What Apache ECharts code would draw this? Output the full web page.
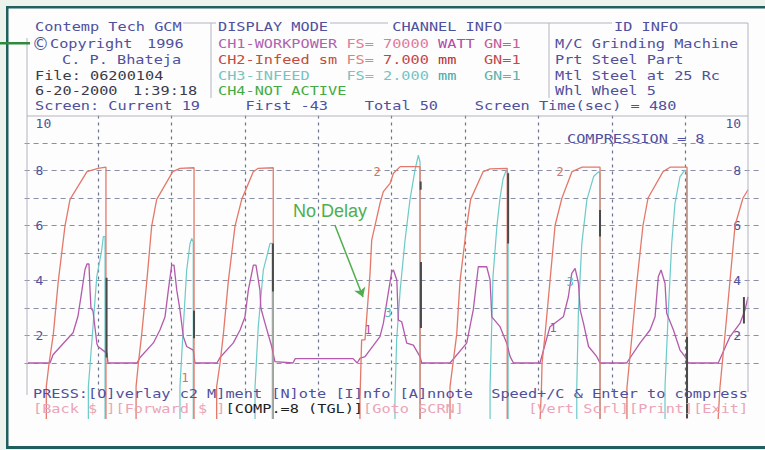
<!DOCTYPE html>
<html>
<head>
<meta charset="utf-8">
<script src="https://cdn.jsdelivr.net/npm/echarts@6/dist/echarts.min.js"></script>
<style>html,body{margin:0;padding:0;background:#fcfdfc}#c{width:765px;height:450px}</style>
</head>
<body>
<div id="c"></div>
<script>
// ---------- DATA (time in seconds, value in screen units 0..10) ----------
// CH1 - WORKPOWER (magenta)
const ch1Workpower = [
 [2.2,1.0],[16.6,1.0],[18.6,1.3],[25.1,1.7],[31.7,2.1],[34.9,2.7],[37.5,3.65],[39.5,4.4],[40.8,4.6],[42.1,4.6],[42.8,3.65],[43.4,3.0],[44.7,2.9],[47.3,1.7],[48.0,1.6],[53.9,1.35],[54.5,1.0],
 [73.5,1.0],[75.5,1.2],[84.2,1.73],[88.5,2.2],[91.8,2.67],[94.0,3.65],[96.2,4.56],[97.7,4.56],[99.5,3.65],[101.6,2.93],[103.8,1.96],[106.0,1.6],[110.3,1.47],[111.4,1.0],
 [125.8,1.0],[127.8,1.2],[136.5,1.73],[140.9,2.2],[144.1,2.67],[146.3,3.65],[149.6,4.56],[151.3,4.56],[153.9,3.65],[154.5,3.0],[157.2,2.45],[161.6,1.6],[163.7,1.05],
 [175.5,1.0],[177.0,1.16],[214.8,1.16],[217.5,1.0],
 [219.3,1.17],[222.6,1.23],[232.4,1.96],[234.6,2.44],[240.1,4.32],[241.2,4.38],[243.4,4.02],[244.4,2.56],[246.6,2.5],[249.9,1.72],[254.2,1.65],[258.6,1.23],[259.7,1.0],
 [278.2,1.0],[289.1,1.72],[293.4,2.93],[296.7,4.5],[302.2,4.5],[304.4,4.02],[305.5,2.68],[310.9,2.32],[315.3,1.72],[317.5,1.23],[319.7,1.0],
 [337.0,1.0],[343.6,2.32],[352.3,2.68],[355.6,3.41],[357.8,4.26],[360.0,4.44],[362.2,3.9],[363.3,2.93],[365.5,2.44],[368.8,1.6],[374.2,1.23],[376.3,1.0],
 [393.7,1.0],[402.4,1.72],[409.0,2.2],[412.3,2.68],[414.4,4.14],[416.2,4.38],[418.8,3.9],[419.9,2.81],[424.3,2.2],[428.6,1.47],[431.9,1.23],[434.0,1.0],
 [453.6,1.0],[461.3,1.96],[467.8,2.44],[471.1,2.93],[473.1,3.4]
];
// CH2 - Infeed sm (red)
const ch2InfeedSm = [
 [2.2,-1.2],
 [14.2,-1.2],[14.2,0.14],[16.0,0.99],[18.8,2.05],[22.0,3.96],[26.4,5.98],[29.7,6.95],[40.8,7.96],[48.0,8.08],[53.2,8.12],[53.2,-1.2],
 [72.9,-1.2],[72.9,0.14],[74.4,0.99],[76.6,2.05],[79.9,3.96],[83.1,5.98],[86.4,6.95],[96.9,7.96],[101.6,8.08],[110.8,8.1],[110.8,-1.2],
 [125.6,-1.2],[125.6,0.14],[127.8,0.99],[130.0,2.05],[133.2,3.96],[137.6,5.98],[142.0,6.95],[149.6,7.96],[152.8,8.08],[162.6,8.1],[162.6,-1.2],
 [219.3,-1.2],[219.3,-0.35],[220.4,1.84],[222.6,1.84],[225.9,4.26],[227.0,5.47],[232.4,6.8],[234.6,7.23],[239.0,7.53],[241.2,7.9],[245.6,8.14],[258.6,8.14],[258.6,-1.2],
 [278.2,-1.2],[278.2,0.14],[282.6,2.05],[284.7,3.96],[289.1,5.98],[291.7,6.95],[299.9,7.96],[304.4,8.06],[315.6,8.08],[315.6,-1.2],
 [337.0,-1.2],[338.0,0.1],[338.4,1.0],[340.3,2.0],[343.6,4.0],[346.9,6.0],[351.4,7.0],[358.0,7.96],[364.6,8.12],[376.3,8.12],[376.3,-1.2],
 [393.9,-1.2],[393.9,0.1],[397.2,2.0],[400.5,4.0],[404.4,6.0],[407.7,7.0],[417.5,7.96],[422.1,8.12],[433.2,8.12],[433.2,-1.2],
 [453.4,-1.2],[454.7,0.1],[458.0,2.0],[461.3,4.0],[464.6,6.0],[469.8,7.0],[473.1,7.3]
];
// CH3 - INFEED (teal)
const ch3Infeed = [
 [2.2,-1.2],
 [41.7,-1.2],[41.7,0.14],[43.9,1.72],[47.2,4.14],[50.4,5.1],[51.5,5.6],[52.6,5.6],[52.6,-1.2],
 [101.6,-1.2],[101.6,0.14],[103.8,2.32],[106.0,4.38],[108.2,5.35],[109.3,5.53],[110.3,5.4],[110.3,-1.2],
 [150.7,-1.2],[150.7,0.14],[152.8,2.32],[156.1,4.38],[159.4,5.1],[160.5,5.35],[162.0,5.35],[162.0,-1.2],
 [242.2,-1.2],[242.2,-0.35],[243.3,1.84],[245.6,3.65],[248.8,5.47],[252.0,6.93],[255.3,8.02],[257.5,8.56],[258.6,8.3],[258.6,-1.2],
 [304.4,-1.2],[304.4,0.14],[306.3,4.14],[308.9,6.0],[310.9,7.0],[312.9,7.7],[314.9,8.0],[316.2,7.9],[316.2,-1.2],
 [361.1,-1.2],[361.1,0.14],[362.2,2.93],[364.4,5.35],[367.7,6.93],[372.1,7.78],[375.4,7.96],[376.3,7.9],[376.3,-1.2],
 [418.8,-1.2],[418.8,0.14],[421.0,2.93],[423.2,5.35],[425.3,6.8],[428.6,7.78],[431.9,8.02],[433.0,7.9],[433.0,-1.2],
 [473.1,-1.2]
];
// dark cycle-end markers: [time, top, bottom]
const cycleMarks = [
 [53.6,4.1,1.2],[110.8,2.9,1.9],[162.4,5.35,3.6],[259.2,4.67,2.27],[259.0,7.6,7.3],
 [316.2,7.9,5.35],[376.3,6.56,5.6],[433.2,1.95,-1.0],[470.4,3.4,2.44]
];
// curve id labels: [time, value, text]
const ch1Ids = [[224.6,2.2,'1'],[345.6,2.27,'1']];
const ch2Ids = [[230.5,7.95,'2'],[350.2,7.95,'2'],[104.9,0.45,'1']];
const ch3Ids = [[237.7,2.82,'3'],[356.7,3.95,'3']];
// annotation
const noDelayText = [199.7, 6.53, 'No Delay'];
const noDelayArrow = [[202.9, 6.02], [221.3, 3.4]];
// axes
const timeRange = [0, 480];
const timeDiv = 48;
const valueRange = [0, 10];
const yTickLabels = [2, 4, 6, 8, 10];

// header / footer texts
const headerLeft = ['Contemp Tech GCM', 'Copyright', '1996', 'C. P. Bhateja', 'File: 06200104', '6-20-2000', '1:39:18', 'Screen: Current 19'];
const channelRows = [
  [['CH1-WORKPOWER',0,'#b062b0'],['FS= 70000',14,'#e27a9c'],['WATT',24,'#b44ca6'],['GN=1',29,'#c65c98']],
  [['CH2-Infeed sm',0,'#c24c3e'],['FS=',14,'#e08080'],['7.000',18,'#c84444'],['mm',24,'#b83232'],['GN=1',29,'#c44a4a']],
  [['CH3-INFEED',0,'#74c4c4'],['FS= 2.000',14,'#74c4c4'],['mm',24,'#48a8a8'],['GN=1',29,'#5cb4ac']],
  [['CH4-NOT ACTIVE',0,'#44aa44']]
];
const idInfo = ['M/C Grinding Machine', 'Prt Steel Part', 'Mtl Steel at 25 Rc', 'Whl Wheel 5'];
const statusLine = [['First -43',3],['Total 50',16],['Screen Time(sec) = 480',28]];
const pressLine = 'PRESS:[O]verlay c2 M]ment [N]ote [I]nfo [A]nnote  Speed+/C & Enter to compress';
const keyLine = [['[Back $ ][Forward $ ]',0,'#eba4b8'],['[COMP.=8 (TGL)]',21,'#1e1e1e'],['[Goto SCRN]',36,'#eba4b8'],['[Vert Scrl][Print][Exit]',54,'#eba4b8']];

// ---------- DRAWING ----------
const NAVY = '#50509e', DARK = '#3a3a4a', GRAYLN = '#b4b4c0';
const MONO = '"DejaVu Sans Mono", monospace';
const FS = 12.5, CW = 9.17, SX = CW / (0.602 * FS);
const ROW = [27, 44, 60, 76, 91, 106];
const MID = 218;

function T(x, y, s, fill, extra) {
  return Object.assign({
    type: 'text', x: x, y: y, scaleX: SX, z: 50, silent: true,
    style: { text: s, font: FS + 'px ' + MONO, fill: fill, textVerticalAlign: 'middle', verticalAlign: 'middle', textAlign: 'left', align: 'left' }
  }, extra || {});
}
function L(x1, y1, x2, y2, c, w) {
  return { type: 'line', z: 45, silent: true, shape: { x1, y1, x2, y2 }, style: { stroke: c || GRAYLN, lineWidth: w || 1 } };
}
function R(x, y, w, h, fill, z) {
  return { type: 'rect', z: z || 60, silent: true, shape: { x, y, width: w, height: h }, style: { fill } };
}

const g = [];
// texts
g.push(T(35, ROW[0], headerLeft[0], NAVY));
g.push({ type: 'text', x: 32, y: ROW[1], z: 50, silent: true, style: { text: '\u00a9', font: '17px "DejaVu Sans"', fill: NAVY, textVerticalAlign: 'middle', verticalAlign: 'middle' } });
g.push(T(50, ROW[1], headerLeft[1], NAVY));
g.push(T(147, ROW[1], headerLeft[2], NAVY));
g.push(T(62, ROW[2], headerLeft[3], NAVY));
g.push(T(35, ROW[3], headerLeft[4], DARK));
g.push(T(35, ROW[4], headerLeft[5], DARK));
g.push(T(133, ROW[4], headerLeft[6], DARK));
g.push(T(35, ROW[5], headerLeft[7], NAVY));
g.push(T(MID, ROW[0], 'DISPLAY MODE', NAVY));
g.push(T(MID + 19 * CW, ROW[0], 'CHANNEL INFO', NAVY));
channelRows.forEach((row, i) => row.forEach(p => g.push(T(MID + p[1] * CW, ROW[i + 1], p[0], p[2]))));
statusLine.forEach(p => g.push(T(MID + p[1] * CW, ROW[5], p[0], NAVY)));
g.push(T(614, ROW[0], 'ID INFO', NAVY));
idInfo.forEach((s, i) => g.push(T(555, ROW[i + 1], s, NAVY)));
g.push(T(567, 139, 'COMPRESSION = 8', NAVY));
g.push(T(33, 394, pressLine, NAVY));
keyLine.forEach(p => g.push(T(33 + p[1] * CW, 409, p[0], p[2])));
// frame lines
g.push(L(183, 23, 211, 23), L(211, 23, 211, 98), L(211, 23, 216, 23));
g.push(L(330, 23, 388, 23), L(504, 23, 612, 23), L(549, 23, 549, 98), L(678, 23, 748, 23));
g.push(L(748, 23, 748, 392), L(27, 38, 27, 395), L(27, 116, 748, 116));
// mask below screen and outer slide frame
g.push(R(8.5, 419, 760, 27, '#fcfdfc', 30));
g.push(R(0, 0, 765, 6, '#ecf3ec'), R(0, 0, 6, 450, '#ecf3ec'), R(0, 449, 765, 1, '#ecf3ec'));
g.push(R(6, 6, 765, 2.5, '#1f5f5f'), R(6, 6, 2.5, 443, '#1f5f5f'), R(6, 446, 765, 3, '#1f5f5f'));
g.push(R(0, 42, 30, 2.5, '#2e8b3e', 70));

function idPoints(list, color) {
  return list.map(d => ({
    coord: [d[0], d[1]], symbol: 'circle', symbolSize: 1, itemStyle: { color: 'rgba(0,0,0,0)' },
    label: { show: true, position: 'inside', formatter: d[2], color: color, fontFamily: MONO, fontSize: 12 }
  }));
}

const markData = [];
cycleMarks.forEach(m => { markData.push([m[0], m[1]], [m[0], m[2]], [m[0], '-']); });

const chart = echarts.init(document.getElementById('c'), null, { renderer: 'svg' });
chart.setOption({
  animation: false,
  backgroundColor: '#fcfdfc',
  grid: { left: 24.6, right: 6.4, top: 115.5, bottom: 59.5, containLabel: false },
  xAxis: {
    type: 'value', min: timeRange[0], max: timeRange[1], interval: timeDiv,
    axisLine: { show: false }, axisTick: { show: false }, axisLabel: { show: false },
    splitLine: { show: true, showMinLine: false, showMaxLine: false, lineStyle: { color: '#6c7290', width: 1.2, type: [3, 4] } }
  },
  yAxis: [0, 1].map(i => ({
    type: 'value', min: valueRange[0], max: valueRange[1], interval: 1, position: i ? 'right' : 'left',
    axisLine: { show: false }, axisTick: { show: false },
    splitLine: { show: i === 0, showMinLine: false, showMaxLine: false, lineStyle: { color: '#8a8ea6', width: 1, type: [5, 4] } },
    axisLabel: {
      show: true, inside: true, margin: i ? 17.5 : 11, color: NAVY, fontFamily: MONO, fontSize: 13,
      formatter: v => yTickLabels.indexOf(v) < 0 ? '' : (v === 10 ? '{t|10}' : String(v)),
      rich: { t: { padding: [16, 0, 0, 0], color: NAVY, fontFamily: MONO, fontSize: 13 } }
    }
  })),
  graphic: { elements: g },
  series: [
    {
      name: 'CH3-INFEED', type: 'line', data: ch3Infeed, symbol: 'none', clip: false, silent: true,
      lineStyle: { color: '#6ccaca', width: 1.2 }, itemStyle: { color: '#6ccaca' },
      markPoint: { silent: true, data: idPoints(ch3Ids, '#4fb8b8').concat([{
        coord: [noDelayText[0], noDelayText[1]], symbol: 'circle', symbolSize: 1, itemStyle: { color: 'rgba(0,0,0,0)' },
        label: { show: true, position: 'inside', formatter: noDelayText[2], color: '#4fae4f', fontFamily: '"Liberation Sans", Arial, sans-serif', fontSize: 18 }
      }]) }
    },
    {
      name: 'CH1-WORKPOWER', type: 'line', data: ch1Workpower, symbol: 'none', clip: false, silent: true,
      lineStyle: { color: '#b45aac', width: 1.3 }, itemStyle: { color: '#b45aac' },
      markPoint: { silent: true, data: idPoints(ch1Ids, '#b04aa8') },
      markLine: {
        silent: true, symbol: ['none', 'arrow'], symbolSize: 9, label: { show: false },
        lineStyle: { color: '#4fae4f', width: 1.5, type: 'solid' },
        data: [[{ coord: noDelayArrow[0] }, { coord: noDelayArrow[1] }]]
      }
    },
    {
      name: 'CH2-Infeed sm', type: 'line', data: ch2InfeedSm, symbol: 'none', clip: false, silent: true,
      lineStyle: { color: '#e4786a', width: 1.3 }, itemStyle: { color: '#e4786a' },
      markPoint: { silent: true, data: idPoints(ch2Ids, '#e07050') }
    },
    {
      name: 'marks', type: 'line', data: markData, symbol: 'none', clip: false, silent: true, connectNulls: false,
      lineStyle: { color: '#4a4a4a', width: 2 }, itemStyle: { color: '#4a4a4a' }
    }
  ]
});
</script>
</body>
</html>
